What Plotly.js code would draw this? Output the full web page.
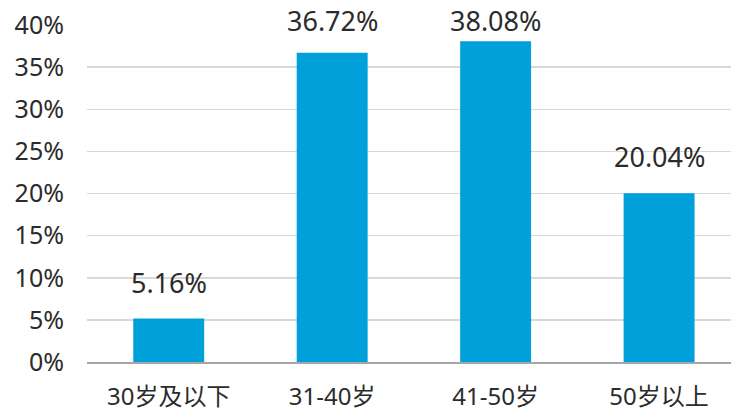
<!DOCTYPE html>
<html>
<head>
<meta charset="utf-8">
<script src="https://cdn.plot.ly/plotly-3.0.1.min.js"></script>
<style>
  html, body { margin: 0; padding: 0; background: #fff; }
  #chart { width: 732px; height: 415px; }
</style>
</head>
<body>
<div id="chart"></div>
<script>
// Age groups and their share (%)
const ageGroups = ['30岁及以下', '31-40岁', '41-50岁', '50岁以上'];
const shares = [5.16, 36.72, 38.08, 20.04];
const yTicks = [0, 5, 10, 15, 20, 25, 30, 35, 40];

const barColor = '#00A0DA';
const textColor = '#2b2b2b';
const fontFamily = '"Noto Sans", "Noto Sans CJK SC", sans-serif';

const plotTop = 25, plotBottom = 362;
const yMax = 40;
const pxPerUnit = (plotBottom - plotTop) / yMax;

// Value labels sit a fixed gap above each bar, but never above the top band
const labelGapPx = 24;
const labelCeilPx = 33;
const annotations = ageGroups.map((g, i) => {
  const barTopPx = plotBottom - shares[i] * pxPerUnit;
  const baselinePx = Math.max(labelCeilPx, barTopPx - labelGapPx);
  const yVal = (plotBottom - baselinePx) / pxPerUnit;
  return {
    x: g, y: yVal, xref: 'x', yref: 'y',
    text: shares[i].toFixed(2) + '%',
    showarrow: false, yanchor: 'bottom', yshift: -8,
    font: { family: fontFamily, size: 27, color: textColor }
  };
});

const trace = {
  type: 'bar',
  x: ageGroups,
  y: shares,
  marker: { color: barColor, line: { width: 0 } },
  hoverinfo: 'skip'
};

const layout = {
  width: 732, height: 415,
  margin: { l: 87, r: 1, t: plotTop, b: 415 - plotBottom, pad: 0 },
  paper_bgcolor: '#fff', plot_bgcolor: '#fff',
  showlegend: false,
  bargap: 0.566,
  font: { family: fontFamily, color: textColor, size: 25 },
  xaxis: {
    type: 'category',
    range: [-0.5, 3.44],
    showgrid: false,
    showline: true, linecolor: '#a6a6a6', linewidth: 2,
    ticks: '', ticklabelstandoff: 12,
    tickfont: { family: fontFamily, size: 24, color: textColor },
    fixedrange: true
  },
  yaxis: {
    range: [0, yMax],
    tickvals: yTicks,
    ticktext: yTicks.map(v => v + '%'),
    showgrid: true, gridcolor: '#d9d9d9', gridwidth: 1.5,
    zeroline: false, showline: false,
    ticks: '', ticklabelstandoff: 22,
    tickfont: { family: fontFamily, size: 25, color: textColor },
    fixedrange: true
  },
  annotations: annotations
};

Plotly.newPlot('chart', [trace], layout, { displayModeBar: false, staticPlot: true });
</script>
</body>
</html>
